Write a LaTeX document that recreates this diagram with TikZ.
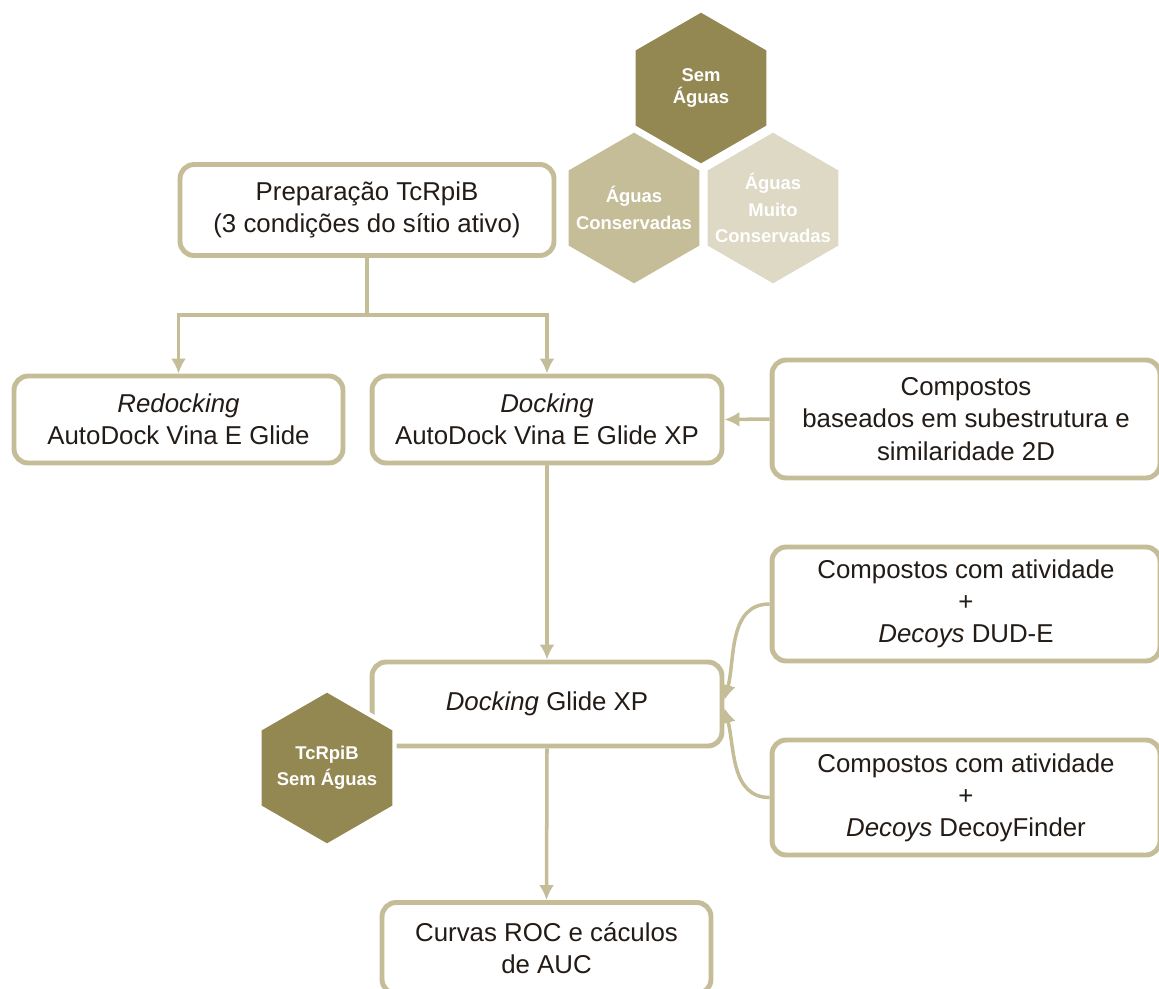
\documentclass[tikz,border=0pt]{standalone}
\usepackage{fontspec}
\setmainfont{Liberation Sans}
\usetikzlibrary{arrows.meta,shapes.geometric}
\usepackage{xcolor}
\definecolor{hexdark}{RGB}{147,135,82}
\definecolor{hexmid}{RGB}{196,189,152}
\definecolor{hexlight}{RGB}{221,217,196}
\definecolor{boxline}{RGB}{196,189,152}
\definecolor{fctext}{RGB}{35,27,22}
\tikzset{
  fcbox/.style={draw=boxline, fill=white, line width=2.8pt, rounded corners=8pt, align=center, text=fctext, font=\fontsize{14.7}{18.3}\selectfont},
  fchex/.style={regular polygon, regular polygon sides=6, shape border rotate=30, minimum size=3.12cm, inner sep=0pt, draw=white, line width=2.5pt},
  fchexlbl/.style={text=white, align=center, font=\bfseries\fontsize{10.5}{15}\selectfont},
  fcarrow/.style={-{Latex[length=3mm,width=3mm]}, draw=boxline, line width=2pt},
}

\begin{document}
\begin{tikzpicture}[x=0.02cm, y=-0.02cm]
  \useasboundingbox (0,0) rectangle (1159,988);
  \clip (0,0) rectangle (1159,988);
  \node[fcbox, minimum width=7.48cm, minimum height=1.82cm] (prep) at (367,210) {Preparação TcRpiB\\(3 condições do sítio ativo)};
  \node[fcbox, minimum width=6.58cm, minimum height=1.74cm] (redock) at (178.5,419.5) {\textit{Redocking}\\AutoDock Vina E Glide};
  \node[fcbox, minimum width=7.0cm, minimum height=1.74cm] (dock) at (547,419.5) {\textit{Docking}\\AutoDock Vina E Glide XP};
  \node[fcbox, minimum width=7.76cm, minimum height=2.36cm] (comp) at (966,419) {Compostos\\baseados em subestrutura e\\similaridade 2D};
  \node[fcbox, minimum width=7.76cm, minimum height=2.28cm] (dude) at (966,604) {Compostos com atividade\\+\\\textit{Decoys} DUD-E};
  \node[fcbox, minimum width=7.76cm, minimum height=2.3cm] (finder) at (966,797.5) {Compostos com atividade\\+\\\textit{Decoys} DecoyFinder};
  \node[fcbox, minimum width=7.0cm, minimum height=1.68cm] (glide) at (547,704) {\textit{Docking} Glide XP};
  \node[fcbox, minimum width=6.58cm, minimum height=1.82cm] (roc) at (546.5,948) {Curvas ROC e cáculos\\de AUC};

  % conditions of the active site
  \node[fchex, fill=hexdark, label={[fchexlbl, font=\bfseries\fontsize{10.5}{12}\selectfont]center:{Sem\\Águas}}] (semag) at (701,88) {};
  \node[fchex, fill=hexmid, label={[fchexlbl]center:{Águas\\Conservadas}}] (consag) at (634,208) {};
  \node[fchex, fill=hexlight, label={[fchexlbl]center:{Águas\\Muito\\Conservadas}}] (muitoag) at (773,208) {};
  \node[fchex, fill=hexdark, label={[fchexlbl]center:{TcRpiB\\Sem Águas}}] (tcrhex) at (327,768) {};

  \draw[fcarrow] (prep.south) -- ++(0,57) -| (redock.north);
  \draw[fcarrow] (prep.south) -- ++(0,57) -| (dock.north);
  \draw[fcarrow] (comp.west) -- (dock.east);
  \draw[fcarrow] (dock.south) -- (glide.north);
  \draw[fcarrow] (dude.west) to[out=180, in=75] ([yshift=0.08cm]glide.east);
  \draw[fcarrow] (finder.west) to[out=180, in=-75] ([yshift=-0.08cm]glide.east);
  \draw[fcarrow] (glide.south) -- (roc.north);
\end{tikzpicture}
\end{document}
